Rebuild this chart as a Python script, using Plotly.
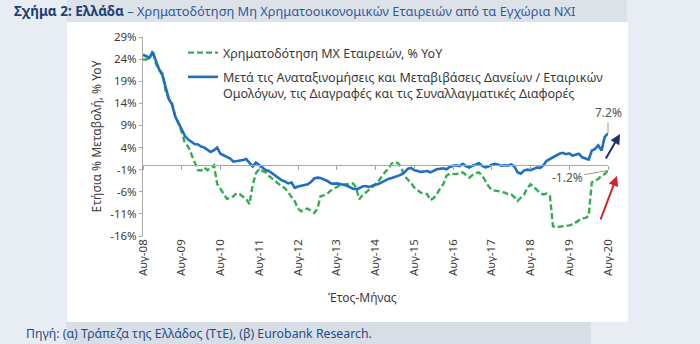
import pandas as pd
import plotly.graph_objects as go

# ---------------- data (monthly, Aug-2008 .. Aug-2020) ----------------
months = pd.date_range("2008-08-01", "2020-08-01", freq="MS")

blue_after_adj = [
    25.0, 24.6, 24.3, 25.5, 23.5, 21.6, 20.3, 17.5, 15.0, 13.8, 11.0, 9.6,
    8.0, 6.6, 5.8, 5.2, 4.8, 4.7, 4.2, 4.0, 3.5, 3.0, 3.4, 4.0,
    2.6, 2.2, 2.0, 1.5, 0.8, 0.9, 1.0, 1.2, 1.4, 0.6, -0.3, 0.6,
    0.0, -0.6, -1.1, -1.3, -1.8, -2.3, -2.8, -3.4, -3.7, -4.1, -3.9, -5.1,
    -4.8, -4.6, -4.5, -4.3, -3.8, -3.0, -2.8, -2.9, -3.2, -3.5, -4.0, -4.2,
    -4.1, -4.2, -4.4, -4.6, -5.0, -5.3, -5.4, -5.2, -4.8, -4.7, -4.9, -4.6,
    -4.4, -4.2, -3.8, -3.5, -3.1, -2.9, -2.7, -2.4, -2.1, -1.6, -0.8, -0.6,
    -1.1, -1.3, -1.5, -1.4, -1.3, -1.6, -1.2, -0.9, -0.8, -0.7, -0.9, -0.4,
    -0.1, 0.0, -0.2, 0.3, -0.2, -0.5, -0.1, 0.1, 0.5, -0.1, -0.5, -0.3,
    0.1, 0.3, 0.1, -0.1, 0.0, -0.1, 0.2, -0.2, -1.6, -1.9, -1.2, -1.0,
    -1.1, -0.8, -0.5, -0.6, 0.0, 1.0, 1.4, 1.8, 2.2, 2.6, 2.8, 2.5,
    2.7, 2.2, 2.4, 2.6, 1.8, 1.5, 1.3, 3.3, 3.7, 4.5, 3.3, 6.4,
    7.2,
]

green_nfc_credit = [
    23.9, 23.9, 24.2, 26.0, 23.0, 21.5, 20.8, 17.0, 15.0, 14.0, 11.0, 9.5,
    7.5, 5.0, 4.2, 2.5, 1.0, -1.1, -1.2, -0.5, -1.1, -0.6, 0.0, -4.2,
    -5.5, -6.5, -7.6, -7.4, -7.0, -6.3, -6.6, -7.0, -7.6, -8.8, -4.5, -1.8,
    -0.9, -1.3, -1.6, -2.4, -3.0, -3.7, -4.3, -4.8, -5.2, -6.2, -7.2, -8.1,
    -9.8, -10.4, -10.0, -9.8, -10.3, -10.8, -9.8, -7.0, -6.8, -6.5, -5.8, -5.4,
    -5.1, -4.5, -4.4, -4.3, -4.2, -4.1, -5.1, -7.7, -6.8, -6.2, -5.6, -5.0,
    -4.3, -3.5, -2.4, -1.5, -0.8, 0.4, 0.7, 0.5, -0.5, -2.4, -3.2, -3.9,
    -5.0, -5.6, -6.2, -6.4, -6.5, -7.9, -7.4, -6.6, -5.2, -4.3, -2.4, -1.9,
    -1.9, -2.0, -1.8, -1.6, -2.2, -2.8, -2.2, -1.8, -1.6, -2.3, -3.5, -4.7,
    -5.6, -5.7, -5.8, -6.0, -6.2, -6.5, -6.6, -7.2, -8.1, -7.3, -6.6, -5.3,
    -4.3, -4.9, -5.6, -6.3, -6.6, -6.4, -7.0, -13.8, -14.0, -13.9, -13.8, -13.8,
    -13.6, -13.4, -12.9, -12.3, -12.0, -11.9, -11.5, -3.9, -3.5, -3.1, -2.4, -2.0,
    -1.2,
]

xtick_vals = [f"{y}-08-01" for y in range(2008, 2021)]
xtick_text = [f"Αυγ-{y % 100:02d}" for y in range(2008, 2021)]
ytick_vals = [-16, -11, -6, -1, 4, 9, 14, 19, 24, 29]
ytick_text = [f"{v}%" for v in ytick_vals]

name_green = "Χρηματοδότηση ΜΧ Εταιρειών, % YoY"
name_blue = ("Μετά τις Αναταξινομήσεις και Μεταβιβάσεις Δανείων / Εταιρικών<br>"
             "Ομολόγων, τις Διαγραφές και τις Συναλλαγματικές Διαφορές")

# ---------------- geometry helpers (pixel -> paper) ----------------
W, H = 700, 344
ML, MR, MT, MB = 143, 92, 37, 108
PW, PH = W - ML - MR, H - MT - MB


def px(x):
    return (x - ML) / PW


def py(y):
    return (H - MB - y) / PH


BLUE = "#1f6fc0"
GREEN = "#34ad52"
TXT = "#3a3a3a"
FONT = "Noto Sans"

fig = go.Figure()
fig.add_trace(go.Scatter(
    x=months, y=green_nfc_credit, mode="lines", name=name_green,
    legendgroup="g", line=dict(color=GREEN, width=2.4, dash="6px,3px")))
fig.add_trace(go.Scatter(
    x=months, y=blue_after_adj, mode="lines", name=name_blue,
    legendgroup="b", line=dict(color=BLUE, width=2.6)))
# invisible trace to hold the zero-crossing category axis
fig.add_trace(go.Scatter(x=[months[0], months[-1]], y=[0, 0], xaxis="x2",
                         mode="lines", line=dict(width=0), hoverinfo="skip",
                         showlegend=False))

zero_pos = (0 - (-16)) / 45.0

shapes = [
    dict(type="rect", xref="paper", yref="paper", layer="below",
         x0=px(67), x1=px(627), y0=py(22), y1=py(0),
         fillcolor="#dde2e9", line=dict(width=0)),
    dict(type="rect", xref="paper", yref="paper", layer="below",
         x0=px(66), x1=px(591), y0=py(344), y1=py(322),
         fillcolor="#d8dee6", line=dict(width=0)),
    dict(type="rect", xref="paper", yref="paper", layer="below",
         x0=px(67), x1=px(628), y0=py(322), y1=py(22),
         fillcolor="white", line=dict(width=0)),
]

annotations = [
    dict(text=("<span style='color:#1d3f74;font-size:13.5px'><b>Σχήμα 2: Ελλάδα</b></span>"
               "<span style='color:#2c5aa0;font-size:12.8px'> – Χρηματοδότηση Μη Χρηματοοικονομικών "
               "Εταιρειών από τα Εγχώρια ΝΧΙ</span>"),
         xref="paper", yref="paper", x=px(12), y=py(11), xanchor="left",
         yanchor="middle", showarrow=False, font=dict(size=13, family=FONT)),
    dict(text="Πηγή: (α) Τράπεζα της Ελλάδος (ΤτΕ), (β) Eurobank Research.",
         xref="paper", yref="paper", x=px(24), y=py(333), xanchor="left",
         yanchor="middle", showarrow=False,
         font=dict(size=12.3, family=FONT, color="#1f4a86")),
    dict(text="Έτος-Μήνας", xref="paper", yref="paper", x=px(362), y=py(297),
         xanchor="center", yanchor="middle", showarrow=False,
         font=dict(size=12, family=FONT, color=TXT)),
    dict(text="7.2%", x=months[-1], y=blue_after_adj[-1], ax=0, ay=-21,
         showarrow=True, arrowhead=0, arrowwidth=1, arrowcolor="#9a9a9a",
         font=dict(size=12, family=FONT, color="#555555")),
    dict(text="-1.2%", x=months[-1], y=green_nfc_credit[-1], ax=-41, ay=7,
         showarrow=True, arrowhead=0, arrowwidth=1, arrowcolor="#9a9a9a",
         font=dict(size=12, family=FONT, color="#555555")),
    dict(text="", xref="paper", yref="paper", x=px(620), y=py(134),
         ax=-15, ay=26, showarrow=True, arrowhead=2, arrowsize=1,
         arrowwidth=2, arrowcolor="#1b2f6b"),
    dict(text="", xref="paper", yref="paper", x=px(617), y=py(176),
         ax=-17, ay=45, showarrow=True, arrowhead=2, arrowsize=1,
         arrowwidth=2, arrowcolor="#d2232a"),
]

fig.update_layout(
    width=W, height=H,
    margin=dict(l=ML, r=MR, t=MT, b=MB),
    paper_bgcolor="#e8edf4", plot_bgcolor="white",
    font=dict(family=FONT, color=TXT, size=11.5),
    showlegend=True,
    legend=dict(x=px(183), y=py(38), xanchor="left", yanchor="top",
                bgcolor="rgba(0,0,0,0)", traceorder="grouped",
                tracegroupgap=5, valign="top",
                font=dict(size=12.5, family=FONT, color=TXT)),
    xaxis=dict(type="date", range=[months[0], months[-1]],
               tickmode="array", tickvals=xtick_vals, ticktext=xtick_text,
               tickangle=-90, showgrid=False, zeroline=False, showline=False,
               ticks="", tickfont=dict(size=11.5, color=TXT)),
    xaxis2=dict(type="date", overlaying="x", matches="x", anchor="free",
                position=zero_pos, side="bottom", showticklabels=False,
                tickmode="array", tickvals=xtick_vals, ticks="outside",
                ticklen=4, tickcolor="#a8a8a8", showline=True,
                linecolor="#a8a8a8", linewidth=1, showgrid=False,
                zeroline=False),
    yaxis=dict(range=[-16, 29], tickmode="array", tickvals=ytick_vals,
               ticktext=ytick_text, showgrid=False, zeroline=False,
               showline=True, linecolor="#a8a8a8", linewidth=1,
               ticks="outside", ticklen=3, tickcolor="#a8a8a8",
               tickfont=dict(size=11.5, color=TXT),
               title=dict(text="Ετήσια % Μεταβολή, % YoY", standoff=6,
                          font=dict(size=12, color=TXT))),
    shapes=shapes, annotations=annotations,
)

fig.write_html("out.html")
